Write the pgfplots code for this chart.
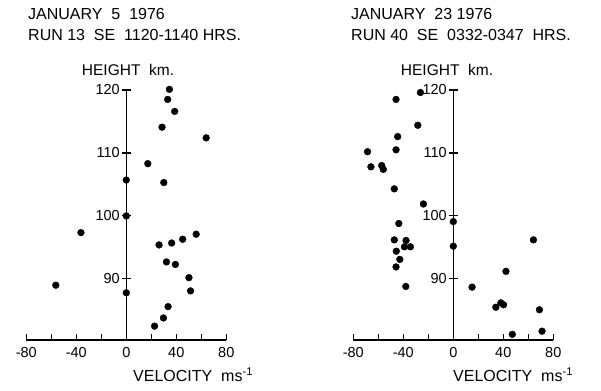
\documentclass[border=0pt]{standalone}
\usepackage{fontspec}
\setmainfont{Liberation Sans}
\usepackage{pgfplots}
\pgfplotsset{compat=1.18}
\pgfplotsset{myax/.style={
  width=200pt, height=250pt, scale only axis,
  xmin=-80, xmax=80, ymin=80.3, ymax=120,
  axis x line=bottom, axis y line=middle,
  axis line style={-, line width=1.3pt, black},
  hide obscured x ticks=false, hide obscured y ticks=false,
  tick align=inside, major tick length=6pt,
  xtick={-80,-60,-40,-20,0,20,40,60,80},
  xticklabels={-80,,-40,,0,,40,,80},
  ytick={90,100,110,120},
  ytick style={draw=none},
  xtick style={line width=1.1pt, black},
  ticklabel style={font=\fontsize{14.5}{14.5}\selectfont},
  xticklabel style={yshift=-4pt},
  yticklabel style={xshift=-3pt},
  /pgf/number format/assume math mode=true,
  clip=false,
}}
\begin{document}
\begin{tikzpicture}
\useasboundingbox (-26.3pt,-50pt) rectangle (574.7pt,340pt);
\begin{axis}[myax, at={(0pt,0pt)}, anchor=south west]
\addplot[only marks, mark=*, mark size=3.4pt, black] coordinates {
(34.5,120.1) (33.1,118.5) (38.7,116.6) (28.6,114.1) (63.9,112.4) (17.2,108.3)
(0,105.7) (30,105.3) (0,100) (-36.3,97.35) (26.2,95.4) (36.3,95.7) (45.1,96.3)
(55.9,97.1) (32.1,92.7) (39.3,92.3) (50.1,90.2) (-56.4,89.0) (51.4,88.1)
(0,87.8) (33.4,85.6) (29.7,83.8) (22.6,82.5)};
\draw[line width=1.1pt] ([xshift=-4.5pt]axis cs:0,90) -- ([xshift=4.5pt]axis cs:0,90);
\draw[line width=1.1pt] ([xshift=-4.5pt]axis cs:0,100) -- ([xshift=4.5pt]axis cs:0,100);
\draw[line width=1.1pt] ([xshift=-4.5pt]axis cs:0,110) -- ([xshift=4.5pt]axis cs:0,110);
\draw[line width=1.1pt] ([xshift=-4.5pt]axis cs:0,120) -- ([xshift=4.5pt]axis cs:0,120);
\end{axis}
\begin{axis}[myax, at={(327pt,0pt)}, anchor=south west]
\addplot[only marks, mark=*, mark size=3.4pt, black] coordinates {
(-26.3,119.6) (-45.8,118.5) (-28.4,114.4) (-44.5,112.6) (-45.8,110.5) (-68.6,110.2)
(-65.9,107.8) (-57.3,108.0) (-56.0,107.4) (-47.2,104.3) (-23.9,101.9) (-43.6,98.8)
(0,99.1) (-47.2,96.2) (-37.8,96.1) (-39.1,95.1) (-34.3,95.1) (0,95.2) (-45.6,94.4)
(-42.8,93.1) (-45.8,91.9) (-38.0,88.8) (15.0,88.7) (64.1,96.2) (42.1,91.2)
(34.0,85.5) (38.0,86.2) (40.2,85.9) (68.9,85.1) (47.2,81.2) (71.0,81.7)};
\draw[line width=1.1pt] ([xshift=-4.5pt]axis cs:0,90) -- ([xshift=4.5pt]axis cs:0,90);
\draw[line width=1.1pt] ([xshift=-4.5pt]axis cs:0,100) -- ([xshift=4.5pt]axis cs:0,100);
\draw[line width=1.1pt] ([xshift=-4.5pt]axis cs:0,110) -- ([xshift=4.5pt]axis cs:0,110);
\draw[line width=1.1pt] ([xshift=-4.5pt]axis cs:0,120) -- ([xshift=4.5pt]axis cs:0,120);
\end{axis}
\begin{scope}[every node/.style={inner sep=0pt}]
\node[anchor=base west, font=\fontsize{16}{16}\selectfont] at (1.7pt,320.7pt) {JANUARY\ \ 5\ \ 1976};
\node[anchor=base west, font=\fontsize{16}{16}\selectfont] at (1.7pt,299.3pt) {RUN 13\ \ SE\ \ 1120-1140 HRS.};
\node[anchor=base west, font=\fontsize{16}{16}\selectfont] at (324.7pt,320.7pt) {JANUARY\ \ 23 1976};
\node[anchor=base west, font=\fontsize{16}{16}\selectfont] at (324.7pt,299.3pt) {RUN 40\ \ SE\ \ 0332-0347\ \ HRS.};
\node[anchor=base, font=\fontsize{15.5}{15.5}\selectfont] at (101.7pt,264pt) {HEIGHT\ \ km.};
\node[anchor=base, font=\fontsize{15.5}{15.5}\selectfont] at (420.7pt,264pt) {HEIGHT\ \ km.};
\node[anchor=base west, font=\fontsize{16}{16}\selectfont] at (106.7pt,-41.7pt) {VELOCITY\ \ ms\textsuperscript{-1}};
\node[anchor=base west, font=\fontsize{16}{16}\selectfont] at (426.7pt,-41.7pt) {VELOCITY\ \ ms\textsuperscript{-1}};
\end{scope}
\end{tikzpicture}
\end{document}
